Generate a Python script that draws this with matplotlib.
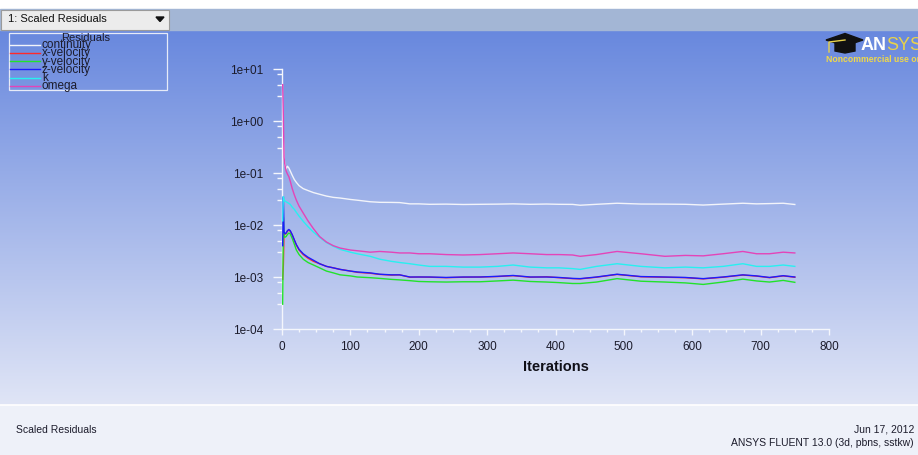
# Fluent "Scaled Residuals" monitor, redrawn with matplotlib.
import numpy as np
import matplotlib
matplotlib.use("Agg")
import matplotlib.pyplot as plt
from matplotlib.patches import Rectangle, Polygon
from matplotlib.ticker import FixedLocator, MultipleLocator, NullFormatter

iterations = [1, 2, 3, 4, 6, 8, 10, 12, 15, 18, 21, 25, 31, 38, 46, 55, 65, 75, 85, 100,
              110, 129, 143, 160, 172, 187, 200, 216, 240, 265, 290, 315, 338, 363, 387, 405,
              425, 436, 460, 490, 525, 560, 590, 616, 645, 674, 694, 713, 733, 750]

continuity = [1.0, 0.45, 0.2, 0.15, 0.12, 0.135, 0.125, 0.11, 0.09, 0.075, 0.066, 0.057, 0.05,
              0.046, 0.042, 0.039, 0.036, 0.034, 0.033, 0.031, 0.030, 0.028, 0.0273, 0.0272,
              0.027, 0.0255, 0.0255, 0.025, 0.0252, 0.0248, 0.025, 0.0252, 0.0255, 0.025,
              0.0253, 0.025, 0.0249, 0.024, 0.025, 0.0262, 0.0253, 0.0252, 0.025, 0.0242,
              0.0252, 0.0262, 0.0255, 0.0258, 0.0262, 0.0248]

x_velocity = [0.0009, 0.0017, 0.0072, 0.0066, 0.0069, 0.0076, 0.008, 0.0076, 0.0064, 0.0051,
              0.0041, 0.0033, 0.0027, 0.0023, 0.002, 0.0018, 0.0016, 0.0015, 0.0014, 0.0013,
              0.00123, 0.00118, 0.00112, 0.00109, 0.0011, 0.00099, 0.001, 0.00099, 0.00097,
              0.00099, 0.001, 0.00102, 0.00106, 0.00099, 0.00101, 0.00097, 0.00093, 0.00092,
              0.00099, 0.00112, 0.00101, 0.00099, 0.00097, 0.00092, 0.00099, 0.00109, 0.00104,
              0.00097, 0.00105, 0.00099]

y_velocity = [0.0003, 0.014, 0.0062, 0.0058, 0.006, 0.0066, 0.007, 0.0068, 0.0055, 0.0043,
              0.0033, 0.0027, 0.0022, 0.0019, 0.0017, 0.0015, 0.0013, 0.0012, 0.0011, 0.00105,
              0.001, 0.00097, 0.00094, 0.0009, 0.00088, 0.00085, 0.00082, 0.00081, 0.0008,
              0.00081, 0.00081, 0.00084, 0.00087, 0.00082, 0.0008, 0.00078, 0.00075, 0.00075,
              0.0008, 0.00093, 0.00083, 0.0008, 0.00077, 0.00072, 0.0008, 0.00091, 0.00084,
              0.0008, 0.00086, 0.00079]

z_velocity = [0.004, 0.035, 0.0075, 0.0068, 0.007, 0.0078, 0.0082, 0.0078, 0.0065, 0.0052,
              0.0042, 0.0034, 0.0028, 0.0024, 0.0021, 0.0018, 0.0016, 0.0015, 0.0014, 0.0013,
              0.00125, 0.0012, 0.00113, 0.0011, 0.0011, 0.001, 0.001, 0.001, 0.00098, 0.001,
              0.001, 0.00103, 0.00107, 0.001, 0.001, 0.00098, 0.00094, 0.00093, 0.001, 0.00113,
              0.00102, 0.001, 0.00098, 0.00093, 0.001, 0.0011, 0.00105, 0.00098, 0.00106, 0.001]

k_res = [0.012, 0.035, 0.031, 0.029, 0.028, 0.027, 0.026, 0.025, 0.022, 0.02, 0.0175, 0.0148,
         0.0118, 0.0093, 0.0073, 0.0058, 0.0046, 0.0039, 0.0034, 0.003, 0.0028, 0.0025, 0.0022,
         0.002, 0.0019, 0.0018, 0.0017, 0.0016, 0.0016, 0.00155, 0.00155, 0.0016, 0.0017,
         0.00155, 0.0015, 0.0015, 0.00145, 0.0014, 0.0016, 0.0018, 0.0016, 0.0015, 0.00155,
         0.0015, 0.0016, 0.0018, 0.0016, 0.0016, 0.0017, 0.0016]

omega_res = [5.0, 1.2, 0.2, 0.15, 0.11, 0.095, 0.085, 0.07, 0.05, 0.038, 0.03, 0.023, 0.017,
             0.012, 0.0085, 0.006, 0.0047, 0.004, 0.0036, 0.0033, 0.0032, 0.003, 0.0031,
             0.003, 0.0029, 0.0029, 0.0028, 0.0028, 0.0027, 0.00265, 0.0027, 0.0028, 0.0029,
             0.0028, 0.0027, 0.0027, 0.00265, 0.0025, 0.0027, 0.0031, 0.0028, 0.0025, 0.0026,
             0.00255, 0.0028, 0.0031, 0.0028, 0.0028, 0.003, 0.0029]

series_names = ["continuity", "x-velocity", "y-velocity", "z-velocity", "k", "omega"]
x_ticks = [0, 100, 200, 300, 400, 500, 600, 700, 800]
y_ticks = [1e-4, 1e-3, 1e-2, 1e-1, 1e0, 1e1]
y_tick_labels = ["1e-04", "1e-03", "1e-02", "1e-01", "1e+00", "1e+01"]

W, H = 918, 455
NARROW = ["Liberation Sans Narrow", "Liberation Sans", "DejaVu Sans"]
SERIES_COLORS = ["#f2f4fa", "#ff2a2a", "#22e22a", "#1c1cff", "#28f0f0", "#e444b8"]
TEXT_DARK = "#1c1c2c"


def draw_frame(fig):
    """Window background: toolbar, blue gradient, footer."""
    bg = fig.add_axes([0, 0, 1, 1])
    bg.axis("off")

    top = np.array([104, 136, 222]) / 255
    bottom = np.array([224, 229, 246]) / 255
    t = np.linspace(0, 1, 256)[:, None]
    grad = top + (bottom - top) * t
    bg.imshow(np.repeat(grad[:, None, :], 2, axis=1), extent=[0, W, 405, 30],
              aspect="auto", zorder=0)
    bg.set_xlim(0, W)
    bg.set_ylim(H, 0)

    # toolbar strip with the dropdown
    bg.add_patch(Rectangle((0, 0), W, 9, color="white", zorder=1))
    bg.add_patch(Rectangle((0, 9), W, 21, color="#a3b6d5", zorder=1))
    bg.add_patch(Rectangle((0.5, 9.5), 168, 20, facecolor="#ececec", edgecolor="#9a9a9a",
                           lw=0.8, zorder=2))
    bg.text(8, 19.5, "1: Scaled Residuals", fontsize=8, family=NARROW, color="#101010",
            va="center", ha="left", zorder=3)
    bg.add_patch(Polygon([[156, 17], [164, 17], [160, 21.5]], color="#101010", zorder=3))

    # footer
    bg.add_patch(Rectangle((0, 405), W, 50, color="#eef1f9", zorder=1))
    bg.plot([0, W], [405, 405], color="white", lw=1.2, zorder=2)
    bg.text(16, 430, "Scaled Residuals", fontsize=7.5, family=NARROW, color=TEXT_DARK,
            va="center", ha="left")
    bg.text(914, 430, "Jun 17, 2012", fontsize=7.5, family=NARROW, color=TEXT_DARK,
            va="center", ha="right")
    bg.text(914, 443, "ANSYS FLUENT 13.0 (3d, pbns, sstkw)", fontsize=7.5, family=NARROW,
            color=TEXT_DARK, va="center", ha="right")
    return bg


def draw_legend(bg):
    """Fluent style legend box in the top-left corner."""
    bg.add_patch(Rectangle((8.5, 32.5), 158, 57, fill=False, edgecolor="#e6ebf8", lw=0.9,
                           zorder=3))
    bg.text(86, 38, "Residuals", fontsize=8, family=NARROW, color=TEXT_DARK,
            ha="center", va="center", zorder=4)
    for i, (name, col) in enumerate(zip(series_names, SERIES_COLORS)):
        y = 44.5 + i * 8.3
        bg.plot([10, 40], [y, y], color=col, lw=1.0, zorder=4)
        bg.text(42, y + 0.5, name, fontsize=8.5, family=NARROW, color=TEXT_DARK,
                ha="left", va="center", zorder=4)


def draw_logo(bg):
    """ANSYS logo, cut by the right edge like in the window."""
    bg.add_patch(Polygon([[826, 40], [845, 33.5], [863, 40], [845, 46]], color="#111111", zorder=4))
    bg.add_patch(Polygon([[835, 43], [855, 43], [855, 51], [845, 53], [835, 51]],
                         color="#111111", zorder=4))
    bg.plot([845, 829, 829], [40, 42, 52], color="#e8d24a", lw=1.0, zorder=5)
    bg.text(861, 45, "AN", fontsize=13, fontweight="bold", family=NARROW, color="white",
            ha="left", va="center", zorder=5)
    bg.text(886, 45, "SYS", fontsize=13, family=NARROW, color="#e8d24a",
            ha="left", va="center", zorder=5)
    bg.text(826, 59, "Noncommercial use only", fontsize=6.2, fontweight="bold", family=NARROW,
            color="#f0d84a", ha="left", va="center", zorder=5)


def plot_residuals(fig):
    ax = fig.add_axes([282 / W, 1 - 329 / H, 547 / W, 260 / H])
    ax.patch.set_visible(False)

    all_series = [continuity, x_velocity, y_velocity, z_velocity, k_res, omega_res]
    for name, values, col in zip(series_names, all_series, SERIES_COLORS):
        ax.plot(iterations, values, color=col, lw=1.0, label=name, zorder=3)

    ax.set_yscale("log")
    ax.set_xlim(0, 800)
    ax.set_ylim(1e-4, 1e1)

    ax.set_yticks(y_ticks)
    ax.set_yticklabels(y_tick_labels)
    minor = [d * m for d in [1e-4, 1e-3, 1e-2, 1e-1, 1e0] for m in (3, 5, 8)]
    ax.yaxis.set_minor_locator(FixedLocator(minor))
    ax.yaxis.set_minor_formatter(NullFormatter())
    ax.set_xticks(x_ticks)
    ax.xaxis.set_minor_locator(MultipleLocator(25))

    for side in ["top", "right"]:
        ax.spines[side].set_visible(False)
    for side in ["left", "bottom"]:
        ax.spines[side].set_color("#f4f6fc")
        ax.spines[side].set_linewidth(1.0)
        ax.spines[side].set_zorder(2)

    ax.tick_params(axis="y", which="major", length=6.5, width=1.0, color="#f4f6fc", pad=7,
                   labelsize=8.5, labelcolor=TEXT_DARK)
    ax.tick_params(axis="y", which="minor", length=3.5, width=1.0, color="#f4f6fc")
    ax.tick_params(axis="x", which="major", length=4, width=1.0, color="#f4f6fc", pad=5,
                   labelsize=8.5, labelcolor=TEXT_DARK)
    ax.tick_params(axis="x", which="minor", length=2, width=1.0, color="#f4f6fc")
    for lab in ax.get_xticklabels() + ax.get_yticklabels():
        lab.set_family(NARROW)

    ax.set_xlabel("Iterations", fontsize=10.5, fontweight="bold", family=NARROW,
                  color="#101018", labelpad=5)
    return ax


def main():
    fig = plt.figure(figsize=(W / 100, H / 100), dpi=100)
    bg = draw_frame(fig)
    draw_legend(bg)
    draw_logo(bg)
    plot_residuals(fig)
    fig.savefig("out.png", dpi=100)


if __name__ == "__main__":
    main()
